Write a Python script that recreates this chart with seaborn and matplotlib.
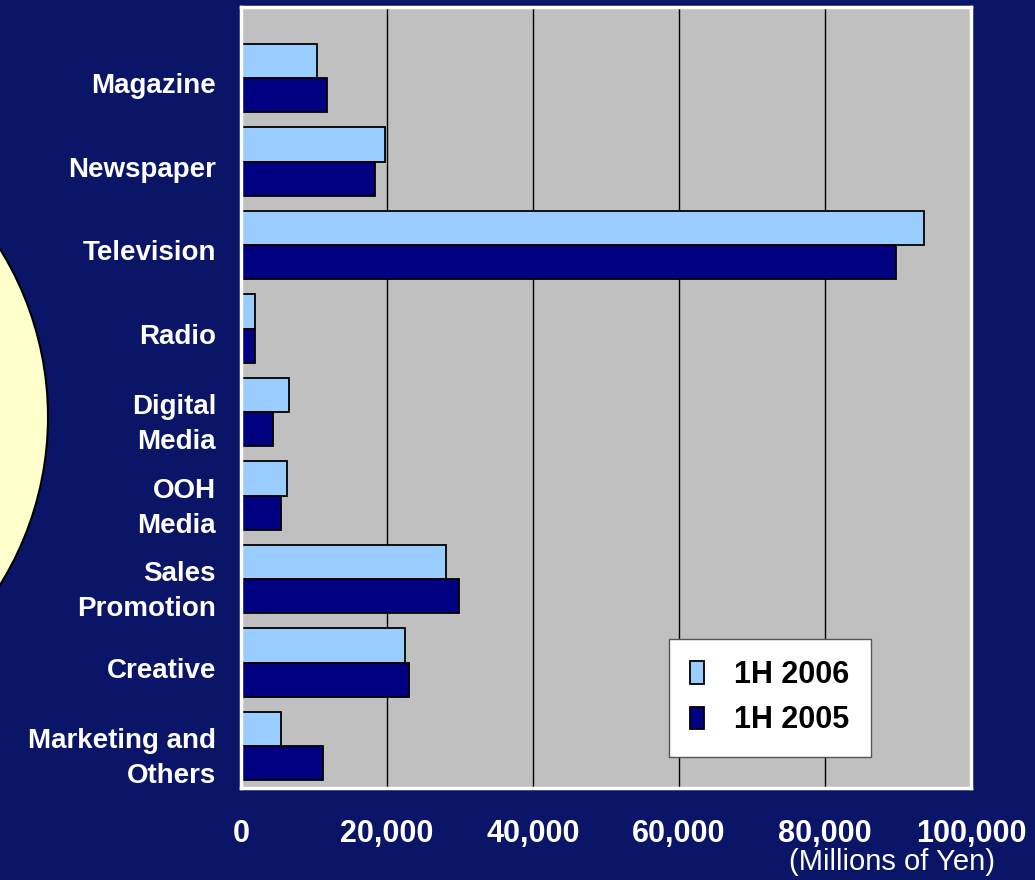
import matplotlib
matplotlib.use("Agg")
import matplotlib.pyplot as plt
from matplotlib.patches import Ellipse
from matplotlib.transforms import ScaledTranslation
import seaborn as sns
import pandas as pd

categories = ["Magazine", "Newspaper", "Television", "Radio", "Digital\nMedia",
              "OOH\nMedia", "Sales\nPromotion", "Creative", "Marketing and\nOthers"]
series_names = ["1H 2006", "1H 2005"]
values_2006 = [10400, 19700, 93500, 1950, 6600, 6300, 28100, 22400, 5500]
values_2005 = [11800, 18300, 89700, 1950, 4400, 5500, 29800, 23000, 11300]
x_ticks = [0, 20000, 40000, 60000, 80000, 100000]
x_tick_labels = ["0", "20,000", "40,000", "60,000", "80,000", "100,000"]

df = pd.DataFrame({
    "category": categories * 2,
    "period": [series_names[0]] * len(categories) + [series_names[1]] * len(categories),
    "value": values_2006 + values_2005,
})

NAVY_BG = "#0B1568"
LIGHT = "#99CCFF"
DARK = "#000080"

sns.set_theme(style="white")
plt.rcParams["font.family"] = ["Liberation Sans", "DejaVu Sans"]

fig = plt.figure(figsize=(10.35, 8.8), dpi=100, facecolor=NAVY_BG)

# pale yellow disc peeking in from the left edge
fig.add_artist(Ellipse((-270 / 1035, 463 / 880), 2 * 318 / 1035, 2 * 318 / 880,
                       transform=fig.transFigure, facecolor="#FFFFCC",
                       edgecolor="black", linewidth=1.5, zorder=0))

ax = fig.add_axes([241 / 1035, 92 / 880, 730 / 1035, 781 / 880])
ax.set_facecolor("#C0C0C0")

sns.barplot(data=df, y="category", x="value", hue="period", orient="h",
            order=categories, hue_order=series_names,
            palette=[LIGHT, DARK], width=0.82, gap=0,
            edgecolor="black", linewidth=1.3, saturation=1, ax=ax)

ax.set_xlim(0, 100000)
ax.set_ylim(8.5, -0.85)
ax.set_axisbelow(True)
for xv in x_ticks[1:-1]:
    ax.axvline(xv, color="black", linewidth=1.0, zorder=0.5)

ax.set_xticks(x_ticks)
ax.set_xticklabels(x_tick_labels)
ax.tick_params(axis="both", length=0, colors="white")
ax.tick_params(axis="x", pad=22, labelsize=22)
ax.tick_params(axis="y", pad=18, labelsize=20)
for lbl in ax.get_xticklabels() + ax.get_yticklabels():
    lbl.set_fontweight("bold")
    lbl.set_color("white")
shift_down = ScaledTranslation(0, -5 / 100, fig.dpi_scale_trans)
for lbl in ax.get_yticklabels():
    lbl.set_linespacing(1.45)
    lbl.set_transform(lbl.get_transform() + shift_down)
ax.set_xlabel("")
ax.set_ylabel("")

for s in ax.spines.values():
    s.set_visible(True)
    s.set_color("white")
    s.set_linewidth(2.5)

fig.text(995 / 1035, 1 - 862 / 880, "(Millions of Yen)", color="white",
         fontsize=21, ha="right", va="center")

leg = ax.legend(loc="lower left", bbox_to_anchor=(0.586, 0.04),
                frameon=True, fancybox=False, framealpha=1,
                edgecolor="#555555", facecolor="white",
                prop={"size": 22, "weight": "bold"},
                handlelength=0.45, handleheight=0.75, handletextpad=1.0,
                labelspacing=0.5, borderpad=0.7, borderaxespad=0)
leg.get_frame().set_linewidth(1.0)
for t in leg.get_texts():
    t.set_color("black")
for h in leg.legend_handles:
    h.set_edgecolor("black")
    h.set_linewidth(1.3)

fig.savefig("out.png", dpi=100, facecolor=NAVY_BG)
